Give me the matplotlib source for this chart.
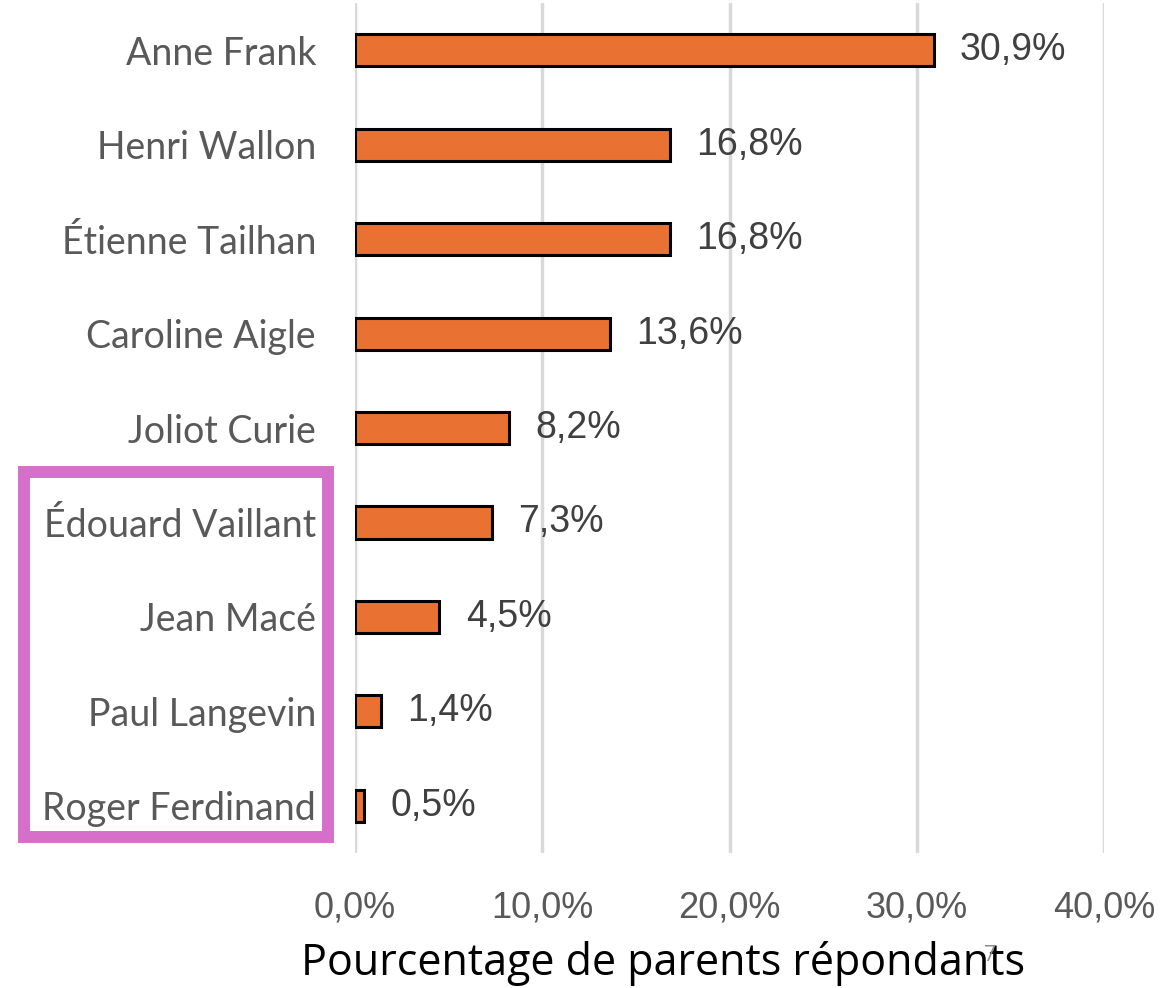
import matplotlib.pyplot as plt
from matplotlib.patches import Rectangle
from matplotlib.ticker import FuncFormatter

# Data
schools = ["Anne Frank", "Henri Wallon", "Étienne Tailhan", "Caroline Aigle",
           "Joliot Curie", "Édouard Vaillant", "Jean Macé", "Paul Langevin",
           "Roger Ferdinand"]
shares = [30.9, 16.8, 16.8, 13.6, 8.2, 7.3, 4.5, 1.4, 0.5]
xticks = [0, 10, 20, 30, 40]

W, H = 1167, 988
fig = plt.figure(figsize=(W / 100, H / 100), dpi=100)
ax = fig.add_axes([355 / W, 1 - 853 / H, (1104 - 355) / W, 850 / H])

ypos = list(range(len(schools)))
ax.barh(ypos, shares, height=0.34, color="#E97132", edgecolor="black",
        linewidth=2.2, zorder=3)

for y, v in zip(ypos, shares):
    ax.annotate(f"{v:.1f}%".replace(".", ","), (v, y), xytext=(19, 0),
                textcoords="offset points", va="center", ha="left",
                fontsize=27, color="#404040", family="Liberation Sans")

ax.set_xlim(0, 40)
ax.set_ylim(len(schools) - 0.5, -0.5)
ax.set_xticks(xticks)
ax.xaxis.set_major_formatter(FuncFormatter(lambda x, p: f"{x:.1f}%".replace(".", ",")))
ax.set_yticks(ypos)
ax.set_yticklabels(schools, family="Lato", fontsize=27, color="#595959")
for lab in ax.get_xticklabels():
    lab.set_family("Liberation Sans")
    lab.set_fontsize(26)
    lab.set_color("#595959")
ax.tick_params(axis="x", length=0, pad=27)
ax.tick_params(axis="y", length=0, pad=28)
ax.grid(axis="x", color="#D9D9D9", linewidth=2.5, zorder=0)
for s in ax.spines.values():
    s.set_visible(False)

# highlight box around the last four schools
fig.patches.append(Rectangle((24 / W, 1 - 837 / H), (328 - 24) / W, (837 - 472) / H,
                             transform=fig.transFigure, fill=False,
                             edgecolor="#D56FC9", linewidth=8.6))

fig.text(663 / W, 1 - 963 / H, "Pourcentage de parents répondants", ha="center",
         va="center", fontsize=31, color="black", family="Open Sans")
fig.text(990 / W, 1 - 955 / H, "7", ha="center", va="center", fontsize=15,
         color="#8C8C8C", family="Open Sans")

fig.savefig("out.png", dpi=100)
